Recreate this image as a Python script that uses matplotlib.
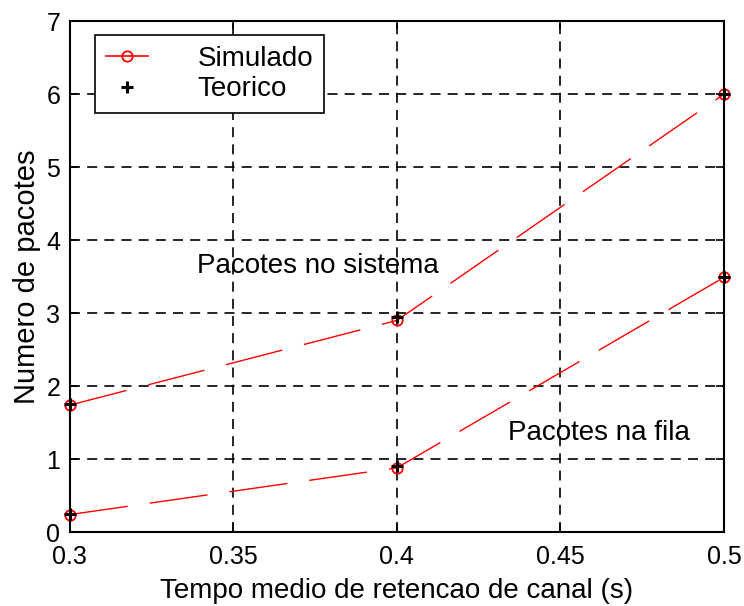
import matplotlib.pyplot as plt
from matplotlib.lines import Line2D

# tempo medio de retencao (s)
tempo = [0.3, 0.4, 0.5]
# pacotes no sistema / na fila
sistema_sim = [1.74, 2.90, 6.0]
fila_sim = [0.24, 0.88, 3.49]
sistema_teo = [1.75, 2.95, 6.0]
fila_teo = [0.25, 0.91, 3.5]

xticks = [0.3, 0.35, 0.4, 0.45, 0.5]
xticklabels = ['0.3', '0.35', '0.4', '0.45', '0.5']
yticks = [0, 1, 2, 3, 4, 5, 6, 7]

plt.rcParams['font.family'] = ['Liberation Sans', 'DejaVu Sans']
plt.rcParams['font.size'] = 18

fig = plt.figure(figsize=(7.44, 6.06), dpi=100)
ax = fig.add_axes([0.094, 0.122, 0.879, 0.843])

# curvas simuladas (vermelho, tracejado)
ax.plot(tempo, sistema_sim, color='red', lw=1.0, dashes=(42, 16),
        marker='o', mfc='none', ms=7.5, mew=1.3, clip_on=False)
ax.plot(tempo, fila_sim, color='red', lw=1.0, dashes=(42, 16),
        marker='o', mfc='none', ms=7.5, mew=1.3, clip_on=False)
# pontos teoricos
ax.plot(tempo, sistema_teo, ls='none', color='black', marker='+', ms=8, mew=2.2,
        zorder=3, clip_on=False)
ax.plot(tempo, fila_teo, ls='none', color='black', marker='+', ms=8, mew=2.2,
        zorder=3, clip_on=False)

ax.text(0.339, 3.55, 'Pacotes no sistema', fontsize=20)
ax.text(0.434, 1.26, 'Pacotes na fila', fontsize=20)

ax.set_xlim(0.3, 0.5)
ax.set_ylim(0, 7)
ax.set_xticks(xticks)
ax.set_xticklabels(xticklabels)
ax.set_yticks(yticks)
ax.grid(True, color='black', ls=(0, (6, 4.3)), lw=1.2)
ax.tick_params(direction='in', top=True, right=True, length=6, width=1.2)
ax.tick_params(axis='x', pad=9)
ax.tick_params(axis='y', pad=7)
for s in ax.spines.values():
    s.set_linewidth(1.5)

ax.set_xlabel('Tempo medio de retencao de canal (s)', fontsize=20, labelpad=7)
ax.set_ylabel('Numero de pacotes', fontsize=21, labelpad=4)

handles = [
    Line2D([], [], color='red', lw=1.2, marker='o', mfc='none', ms=7.5, mew=1.3),
    Line2D([], [], ls='none', color='black', marker='+', ms=8, mew=2.2),
]
leg = ax.legend(handles, ['Simulado', 'Teorico'], loc='upper left',
                bbox_to_anchor=(0.038, 0.973), borderaxespad=0, fancybox=False,
                framealpha=1, edgecolor='black', borderpad=0.4, handlelength=1.5,
                handletextpad=1.8, labelspacing=0.15, numpoints=1, fontsize=20)
leg.get_frame().set_linewidth(1.2)

fig.savefig('out.png', dpi=100)
